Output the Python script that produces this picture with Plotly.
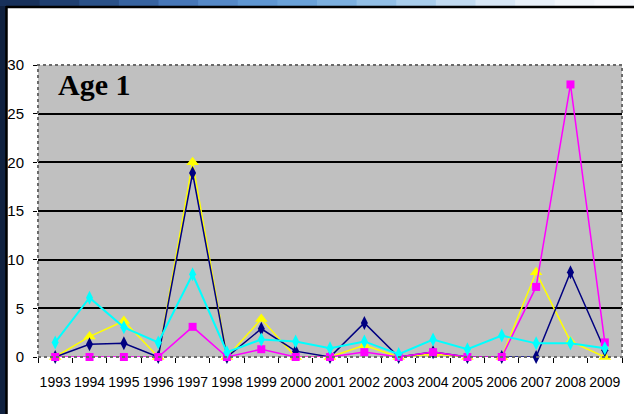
import plotly.graph_objects as go

# Survey years and catch per series (age-1 fish)
years = [str(y) for y in range(1993, 2010)]
navy_vals = [0, 1.3, 1.4, 0, 18.9, 0, 2.9, 0.6, 0, 3.5, 0, 0.5, 0, 0, 0, 8.7, 0.7]
magenta_vals = [0, 0, 0, 0, 3.1, 0, 0.8, 0, 0, 0.5, 0, 0.5, 0, 0, 7.2, 28.0, 1.5]
yellow_vals = [0, 2.1, 3.7, 0, 20.0, 0, 3.9, 0, 0, 1.2, 0, 0.3, 0, 0, 8.7, 1.6, 0]
cyan_vals = [1.5, 6.1, 3.05, 1.5, 8.5, 0.5, 1.8, 1.6, 0.9, 1.6, 0.3, 1.8, 0.8, 2.2, 1.4, 1.4, 0.9]
y_ticks = [0, 5, 10, 15, 20, 25, 30]

W, H = 634, 414
L, R, T, B = 38, 12, 65, 57
PW, PH = W - L - R, H - T - B


def px(x):
    return (x - L) / PW


def py(y):
    return (H - B - y) / PH


fig = go.Figure()

series = [
    (yellow_vals, "#ffff00", "triangle-up", 11, 1.5),
    (navy_vals, "#000080", "diamond-tall", 10, 1.5),
    (magenta_vals, "#ff00ff", "square", 8, 1.5),
    (cyan_vals, "#00ffff", "diamond-tall", 10, 2),
]
for vals, col, sym, size, lw in series:
    fig.add_trace(go.Scatter(
        x=years, y=vals, mode="lines+markers",
        line=dict(color=col, width=lw),
        marker=dict(color=col, symbol=sym, size=size, line=dict(width=0)),
        cliponaxis=False, showlegend=False,
    ))

shapes = []
# slide frame: dark left strip and a blue gradient strip across the top
shapes.append(dict(type="rect", xref="paper", yref="paper",
                   x0=px(0), x1=px(6), y0=py(H), y1=py(0),
                   fillcolor="#10213f", line=dict(width=0), layer="below"))
grad = ["#17305a", "#1f3f70", "#2a5188", "#3763a0", "#4677b8", "#5589c8",
        "#5f97d3", "#6aa2da", "#7cb0e0", "#92bfe6", "#a9cdec", "#c2dbf1",
        "#d8e7f6", "#e8f0f9", "#f2f6fb", "#f7f9fd"]
n = len(grad)
for i, c in enumerate(grad):
    shapes.append(dict(type="rect", xref="paper", yref="paper",
                       x0=px(i * W / n), x1=px((i + 1) * W / n + 1),
                       y0=py(6), y1=py(0),
                       fillcolor=c, line=dict(width=0), layer="below"))
shapes.append(dict(type="line", xref="paper", yref="paper",
                   x0=px(6), x1=px(W), y0=py(7), y1=py(7),
                   line=dict(color="black", width=2.5)))
shapes.append(dict(type="line", xref="paper", yref="paper",
                   x0=px(6.5), x1=px(6.5), y0=py(6), y1=py(H),
                   line=dict(color="black", width=2.5)))
# dotted plot-area border
shapes.append(dict(type="rect", xref="paper", yref="paper",
                   x0=0, x1=1, y0=0, y1=1,
                   line=dict(color="#6a6a6a", width=2, dash="dot")))

fig.update_layout(
    width=W, height=H,
    margin=dict(l=L, r=R, t=T, b=B),
    paper_bgcolor="white",
    plot_bgcolor="#c0c0c0",
    shapes=shapes,
    annotations=[dict(text="<b>Age 1</b>", xref="paper", yref="paper",
                      x=px(56), y=py(84), xanchor="left", yanchor="middle",
                      showarrow=False,
                      font=dict(family="Liberation Serif", size=30, color="black"))],
    xaxis=dict(
        type="category", range=[-0.5, 16.5], automargin=False,
        showgrid=False, zeroline=False, showline=False,
        ticks="outside", ticklen=5, tickcolor="black", tickwidth=1,
        tickson="boundaries", tickangle=0,
        ticklabelstandoff=15,
        tickfont=dict(family="Liberation Sans", size=14, color="black"),
    ),
    yaxis=dict(
        range=[0, 30], tickvals=y_ticks, automargin=False,
        showgrid=True, gridcolor="black", gridwidth=2,
        zeroline=False, showline=False,
        ticks="outside", ticklen=4, tickcolor="black",
        tickfont=dict(family="Liberation Sans", size=15, color="black"),
        ticklabelstandoff=6,
    ),
)

fig.write_html("out.html")
